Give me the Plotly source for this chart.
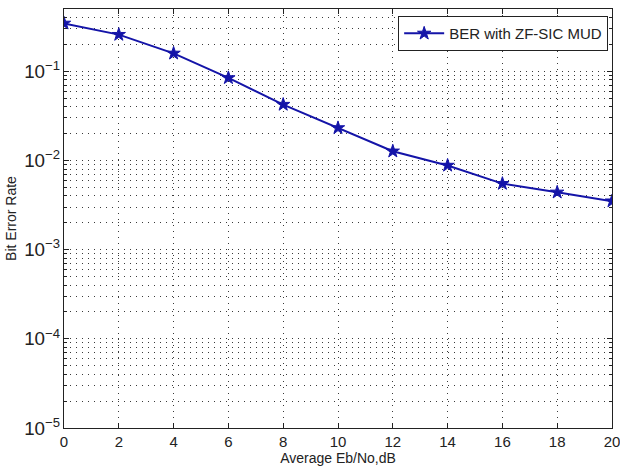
import plotly.graph_objects as go

snr_db = [0, 2, 4, 6, 8, 10, 12, 14, 16, 18, 20]
ber = [0.345, 0.258, 0.159, 0.0844, 0.0424, 0.0232, 0.0127, 0.0088, 0.0055, 0.0044, 0.0035]
series_name = "BER with ZF-SIC MUD"
x_ticks = [0, 2, 4, 6, 8, 10, 12, 14, 16, 18, 20]

font_family = "Liberation Sans, Arial, sans-serif"
line_color = "#1414a8"
grid_color = "#3a3a3a"
grid_dash = "1px,5px"

fig = go.Figure()
fig.add_trace(go.Scatter(
    x=snr_db, y=ber, name=series_name, mode="lines+markers",
    line=dict(color=line_color, width=2),
    marker=dict(symbol="star", size=10, color=line_color,
                line=dict(color=line_color, width=1)),
    showlegend=True,
))

fig.update_layout(
    width=620, height=473,
    margin=dict(l=64, r=8, t=9, b=45),
    paper_bgcolor="white", plot_bgcolor="white",
    font=dict(family=font_family, size=15, color="#222"),
    showlegend=True,
    legend=dict(x=0.993, y=0.983, xanchor="right", yanchor="top",
                bgcolor="white", bordercolor="#222", borderwidth=1,
                font=dict(size=15), itemwidth=40,
                tracegroupgap=0),
    xaxis=dict(
        range=[0, 20], tickmode="array", tickvals=x_ticks,
        ticks="inside", ticklen=5, tickcolor="#222",
        showline=True, linecolor="#222", linewidth=1, mirror="ticks",
        showgrid=True, zeroline=False, automargin=False,
        ticklabeloverflow="allow",
        gridcolor=grid_color, griddash=grid_dash, gridwidth=1,
        tickfont=dict(size=15),
        title=dict(text="Average Eb/No,dB", standoff=3, font=dict(size=14)),
    ),
    yaxis=dict(
        type="log", range=[-5, -0.301], dtick=1, exponentformat="power",
        ticks="inside", ticklen=5, tickcolor="#222",
        showline=True, linecolor="#222", linewidth=1, mirror="ticks",
        showgrid=True, zeroline=False,
        gridcolor=grid_color, griddash=grid_dash, gridwidth=1,
        tickfont=dict(size=15),
        minor=dict(ticks="inside", ticklen=3, tickcolor="#222",
                   showgrid=True, gridcolor=grid_color, griddash=grid_dash,
                   gridwidth=1),
        title=dict(text="Bit Error Rate", standoff=4, font=dict(size=14)),
    ),
)

fig.write_html("out.html")
